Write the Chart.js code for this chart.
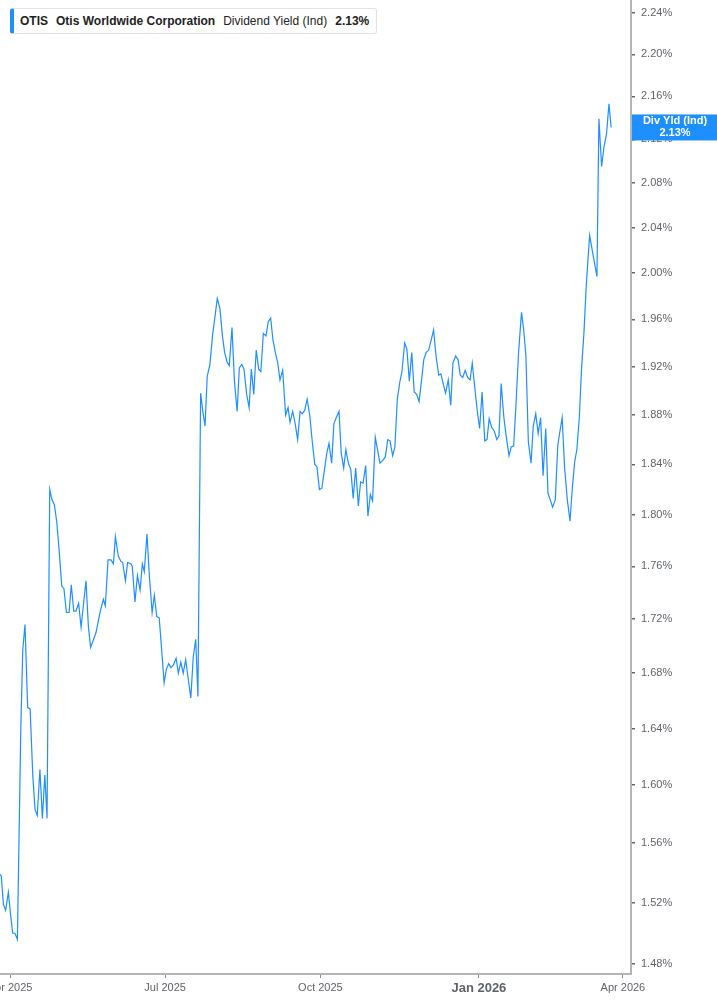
<!DOCTYPE html>
<html lang="en">
<head>
    <meta charset="UTF-8">
    <title>OTIS Dividend Yield</title>
    <script src="https://cdn.jsdelivr.net/npm/chart.js"></script>
    <style>
        body { margin: 0; padding: 0; background: #fff; font-family: "Liberation Sans", Arial, sans-serif; }
        .wrap { position: relative; width: 717px; height: 1005px; }
        .legend { position: absolute; left: 10px; top: 8px; height: 24px; display: flex; align-items: center;
                  background: #fff; border: 1px solid #e3e3e3; border-left: 4px solid #1e8fff; border-radius: 3px;
                  padding: 0 7px 0 6px; font-size: 12px; color: #222; white-space: nowrap; }
        .legend span { margin-right: 8px; }
        .legend span:last-child { margin-right: 0; }
        .b { font-weight: bold; }
    </style>
</head>
<body>
<div class="wrap">
    <canvas id="yieldChart"></canvas>
    <div class="legend" id="legend"></div>
</div>
<script>
    // trading-day index (0 = start of Apr 2025) and dividend yield in %
    const days = [-4.1, -3.6, -2.7, -1.8, -0.7, 0.3, 1.1, 2.0, 3.0, 4.4, 5.2, 6.1, 7.2, 8.2, 9.3, 10.2, 11.1, 12.2, 13.2, 14.2,
        15.1, 16.2, 17.1, 18.1, 19.1, 20.1, 21.1, 22.0, 23.0, 24.1, 25.0, 26.0, 26.9, 28.0, 29.0, 31.0, 32.0, 32.9, 35.1, 36.7,
        38.1, 38.9, 40.0, 41.2, 42.2, 43.0, 44.2, 45.2, 46.0, 47.1, 48.0, 49.3, 49.9, 51.0, 52.0, 53.1, 54.0, 54.8, 55.9, 56.9,
        58.0, 58.9, 59.9, 60.9, 61.9, 62.9, 63.8, 64.8, 65.7, 66.7, 67.8, 68.7, 69.7, 70.7, 71.7, 72.8, 73.8, 74.8, 75.8, 76.7,
        77.8, 78.7, 79.6, 80.5, 81.6, 82.7, 83.7, 84.6, 85.7, 86.7, 87.6, 88.6, 89.5, 90.6, 91.6, 92.7, 93.6, 94.6, 95.5, 96.6,
        97.6, 98.5, 99.5, 100.5, 101.5, 102.4, 103.4, 104.5, 105.4, 106.4, 107.3, 108.3, 109.3, 110.2, 111.3, 112.5, 113.5, 114.3, 115.4, 116.4,
        117.4, 118.4, 119.3, 120.3, 121.3, 122.4, 123.4, 124.4, 125.3, 126.3, 127.3, 128.3, 129.3, 130.2, 131.3, 132.2, 133.2, 134.3, 135.2, 136.2,
        137.1, 138.1, 139.1, 140.1, 141.1, 142.2, 143.1, 144.1, 145.2, 146.1, 147.1, 148.0, 149.1, 150.1, 151.0, 152.1, 153.2, 154.2, 155.1, 156.2,
        157.1, 158.1, 159.1, 160.0, 161.1, 162.0, 163.0, 164.0, 165.0, 166.0, 167.0, 168.0, 168.9, 169.9, 170.9, 172.0, 172.9, 173.9, 175.0, 175.9,
        176.9, 177.8, 178.9, 179.9, 180.8, 181.9, 182.9, 183.8, 184.8, 185.8, 186.8, 187.8, 188.7, 189.7, 190.7, 191.7, 192.7, 193.8, 194.7, 195.6,
        196.6, 197.7, 198.7, 199.6, 200.5, 201.6, 202.6, 203.7, 204.6, 205.6, 206.5, 207.6, 208.8, 209.7, 210.6, 211.6, 212.7, 213.6, 214.6, 215.6,
        216.6, 217.6, 218.7, 219.6, 220.5, 221.5, 222.6, 223.6, 224.5, 225.4, 226.4, 227.5, 228.6, 229.5, 230.5, 231.4, 232.4, 233.3, 234.3, 235.2,
        236.6, 237.6, 238.5, 239.6, 240.4, 241.5, 242.4, 243.5, 244.5, 245.4];
    const yields = [1.539, 1.538, 1.519, 1.515, 1.527, 1.511, 1.500, 1.500, 1.496, 1.641, 1.697, 1.716, 1.655, 1.654, 1.606, 1.583, 1.579, 1.611, 1.577, 1.607,
        1.577, 1.820, 1.812, 1.808, 1.794, 1.771, 1.745, 1.743, 1.725, 1.725, 1.746, 1.726, 1.726, 1.732, 1.714, 1.749, 1.714, 1.699, 1.710, 1.725,
        1.735, 1.730, 1.765, 1.765, 1.762, 1.783, 1.768, 1.764, 1.763, 1.749, 1.763, 1.762, 1.760, 1.733, 1.753, 1.742, 1.762, 1.756, 1.785, 1.752,
        1.725, 1.738, 1.722, 1.721, 1.697, 1.673, 1.683, 1.687, 1.684, 1.686, 1.691, 1.680, 1.688, 1.680, 1.690, 1.675, 1.662, 1.692, 1.705, 1.663,
        1.898, 1.883, 1.871, 1.912, 1.922, 1.947, 1.963, 1.978, 1.969, 1.946, 1.932, 1.924, 1.921, 1.953, 1.908, 1.883, 1.919, 1.922, 1.918, 1.897,
        1.886, 1.918, 1.897, 1.934, 1.918, 1.916, 1.948, 1.946, 1.958, 1.961, 1.943, 1.932, 1.923, 1.909, 1.917, 1.880, 1.886, 1.874, 1.883, 1.873,
        1.860, 1.883, 1.881, 1.884, 1.893, 1.879, 1.858, 1.840, 1.838, 1.820, 1.821, 1.835, 1.849, 1.857, 1.841, 1.873, 1.878, 1.883, 1.849, 1.837,
        1.852, 1.841, 1.836, 1.813, 1.837, 1.807, 1.826, 1.825, 1.839, 1.799, 1.816, 1.811, 1.862, 1.851, 1.841, 1.843, 1.846, 1.860, 1.859, 1.847,
        1.854, 1.893, 1.907, 1.916, 1.940, 1.935, 1.908, 1.932, 1.899, 1.897, 1.891, 1.909, 1.926, 1.932, 1.934, 1.943, 1.951, 1.929, 1.913, 1.914,
        1.905, 1.898, 1.909, 1.888, 1.923, 1.929, 1.926, 1.913, 1.911, 1.917, 1.911, 1.909, 1.923, 1.903, 1.884, 1.869, 1.899, 1.859, 1.860, 1.877,
        1.870, 1.867, 1.860, 1.863, 1.906, 1.878, 1.862, 1.847, 1.854, 1.855, 1.887, 1.932, 1.966, 1.951, 1.929, 1.858, 1.841, 1.871, 1.881, 1.865,
        1.878, 1.831, 1.869, 1.817, 1.812, 1.806, 1.812, 1.855, 1.867, 1.878, 1.837, 1.812, 1.795, 1.820, 1.842, 1.852, 1.878, 1.918, 1.949, 1.988,
        2.033, 2.021, 2.010, 1.997, 2.139, 2.095, 2.112, 2.125, 2.153, 2.131];

    const xTickPos = [0, 63.3, 126.7, 191.4, 250.2];
    const xTickLabels = ['Apr 2025', 'Jul 2025', 'Oct 2025', 'Jan 2026', 'Apr 2026'];
    const yTicks = [1.48, 1.52, 1.56, 1.60, 1.64, 1.68, 1.72, 1.76, 1.80, 1.84, 1.88, 1.92, 1.96, 2.00, 2.04, 2.08, 2.12, 2.16, 2.20, 2.24];

    const ticker = 'OTIS';
    const company = 'Otis Worldwide Corporation';
    const metric = 'Dividend Yield (Ind)';
    const shortMetric = 'Div Yld (Ind)';

    const lineColor = '#1e8fff';
    const lastVal = yields[yields.length - 1];

    document.getElementById('legend').innerHTML =
        `<span class="b">${ticker}</span><span class="b">${company}</span><span>${metric}</span><span class="b">${lastVal.toFixed(2)}%</span>`;

    Chart.defaults.font.family = '"Liberation Sans", Arial, sans-serif';

    // blue value tag on the right axis at the last point
    const lastLabel = {
        id: 'lastLabel',
        afterDraw(chart) {
            const ctx = chart.ctx, ys = chart.scales.y;
            const yc = ys.getPixelForValue(lastVal);
            ctx.save();
            ctx.fillStyle = lineColor;
            ctx.fillRect(ys.left + 1, yc - 13, ys.right - ys.left, 26);
            ctx.fillStyle = '#fff';
            ctx.font = 'bold 11px "Liberation Sans", Arial, sans-serif';
            ctx.textAlign = 'center';
            ctx.textBaseline = 'middle';
            const cx = (ys.left + ys.right) / 2 + 1;
            ctx.fillText(shortMetric, cx, yc - 6);
            ctx.fillText(lastVal.toFixed(2) + '%', cx, yc + 6);
            ctx.restore();
        }
    };

    new Chart(document.getElementById('yieldChart'), {
        type: 'line',
        data: {
            datasets: [{
                data: days.map((d, i) => ({ x: d, y: yields[i] })),
                borderColor: lineColor,
                borderWidth: 1.2,
                pointRadius: 0,
                tension: 0,
                fill: false
            }]
        },
        options: {
            responsive: true,
            maintainAspectRatio: false,
            animation: false,
            layout: { padding: 0 },
            plugins: { legend: { display: false }, tooltip: { enabled: false } },
            scales: {
                x: {
                    type: 'linear',
                    min: -4.1,
                    max: 253.5,
                    border: { display: true, color: '#b5b5b5', width: 2 },
                    grid: { drawOnChartArea: false, drawTicks: true, tickLength: 4, color: '#888' },
                    ticks: {
                        autoSkip: false, maxRotation: 0, padding: 3, color: '#5f6368',
                        font: c => (c.index === 3 ? { size: 13, weight: 'bold' } : { size: 11 }),
                        callback: (v, i) => xTickLabels[i]
                    },
                    afterBuildTicks: s => { s.ticks = xTickPos.map(v => ({ value: v })); },
                    afterFit: s => { s.height = 31; s.paddingLeft = 0; s.paddingRight = 0; }
                },
                y: {
                    type: 'logarithmic',
                    position: 'right',
                    bounds: 'data',
                    min: 1.4736,
                    max: 2.2527,
                    border: { display: true, color: '#b5b5b5', width: 2 },
                    grid: { drawOnChartArea: false, drawTicks: true, tickLength: 4, color: '#666', lineWidth: 1.5 },
                    ticks: { color: '#5f6368', padding: 6, font: { size: 11 }, callback: v => Number(v).toFixed(2) + '%' },
                    afterBuildTicks: s => { s.ticks = yTicks.map(v => ({ value: v })); },
                    afterFit: s => { s.width = 86; s.paddingTop = 0; s.paddingBottom = 0; }
                }
            }
        },
        plugins: [lastLabel]
    });
</script>
</body>
</html>
